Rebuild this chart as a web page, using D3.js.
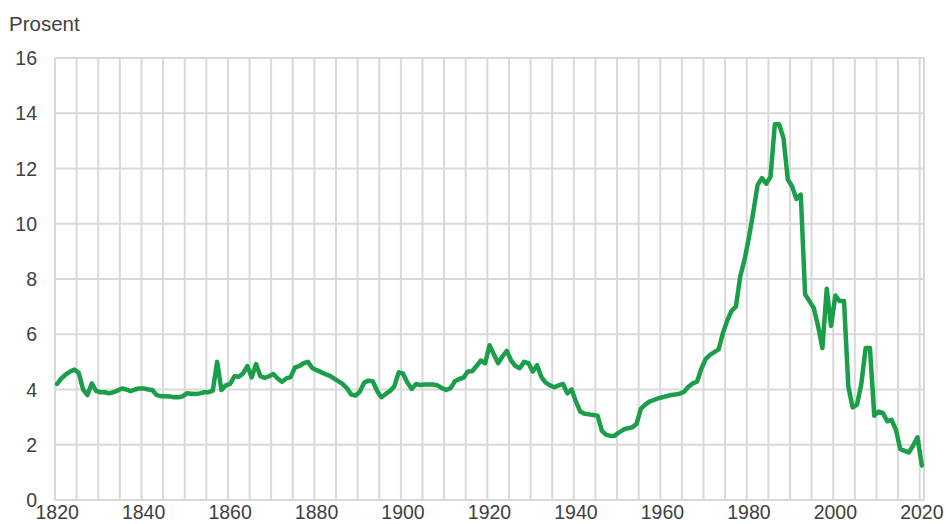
<!DOCTYPE html>
<html>
<head>
<meta charset="utf-8">
<script src="https://cdn.jsdelivr.net/npm/d3@7"></script>
<style>
  body { margin: 0; background: #fff; }
  text { font-family: "Liberation Sans", Arial, sans-serif; fill: #404040; }
</style>
</head>
<body>
<div id="chart"></div>
<script>
// one value per year, 1820-2020
const years = d3.range(1820, 2021)
const rates = [
  4.2, 4.4, 4.55, 4.65, 4.72, 4.6, 4.0, 3.8, 4.22, 3.95,      // 1820s
  3.9, 3.9, 3.86, 3.9, 3.96, 4.04, 4.0, 3.94, 4.0, 4.04,      // 1830s
  4.04, 4.0, 3.98, 3.8, 3.76, 3.76, 3.75, 3.72, 3.72, 3.75,   // 1840s
  3.86, 3.85, 3.84, 3.86, 3.9, 3.9, 3.96, 5.0, 3.98, 4.15,    // 1850s
  4.2, 4.48, 4.46, 4.58, 4.85, 4.44, 4.92, 4.48, 4.42, 4.48,  // 1860s
  4.56, 4.4, 4.28, 4.4, 4.45, 4.8, 4.85, 4.95, 5.0, 4.78,     // 1870s
  4.7, 4.63, 4.56, 4.5, 4.4, 4.3, 4.2, 4.05, 3.82, 3.78,      // 1880s
  3.92, 4.25, 4.32, 4.3, 3.95, 3.72, 3.84, 3.95, 4.12, 4.62,  // 1890s
  4.58, 4.25, 4.02, 4.2, 4.16, 4.18, 4.18, 4.18, 4.15, 4.05,  // 1900s
  3.98, 4.05, 4.3, 4.38, 4.43, 4.65, 4.66, 4.85, 5.05, 4.95,  // 1910s
  5.6, 5.28, 4.95, 5.2, 5.4, 5.05, 4.85, 4.77, 5.0, 4.95,     // 1920s
  4.65, 4.88, 4.45, 4.25, 4.15, 4.08, 4.15, 4.2, 3.86, 4.0,   // 1930s
  3.56, 3.2, 3.12, 3.1, 3.08, 3.05, 2.5, 2.36, 2.32, 2.33,    // 1940s
  2.45, 2.55, 2.6, 2.63, 2.75, 3.3, 3.45, 3.56, 3.62, 3.68,   // 1950s
  3.72, 3.76, 3.8, 3.82, 3.85, 3.92, 4.1, 4.22, 4.28, 4.75,   // 1960s
  5.1, 5.25, 5.35, 5.45, 6.05, 6.5, 6.85, 7.0, 8.1, 8.7,      // 1970s
  9.5, 10.4, 11.4, 11.65, 11.45, 11.7, 13.6, 13.6, 13.1, 11.6, // 1980s
  11.35, 10.9, 11.05, 7.45, 7.2, 6.95, 6.3, 5.5, 7.65, 6.3,   // 1990s
  7.4, 7.2, 7.2, 4.1, 3.35, 3.45, 4.2, 5.5, 5.5, 3.05,        // 2000s
  3.2, 3.15, 2.85, 2.9, 2.55, 1.85, 1.78, 1.72, 1.98, 2.27,   // 2010s
  1.25                                                        // 2020
]
const yTicks = [0, 2, 4, 6, 8, 10, 12, 14, 16]
const xLabels = [1820, 1840, 1860, 1880, 1900, 1920, 1940, 1960, 1980, 2000, 2020]
const yLabel = "Prosent"

;(function () {
  const margin = { top: 58, right: 22, bottom: 24, left: 55 }
  const width = 946 - margin.left - margin.right,
    height = 524 - margin.top - margin.bottom

  // category style axis: each year owns a slot, points sit in the middle of it
  const x = d3.scaleLinear()
    .domain([years[0] - 0.5, years[years.length - 1] + 0.5])
    .range([0, width])
  const y = d3.scaleLinear().domain([0, 16]).range([height, 0])

  const svg = d3.select("#chart")
    .append("svg")
    .attr("width", width + margin.left + margin.right)
    .attr("height", height + margin.top + margin.bottom)

  svg.append("text")
    .attr("x", 9)
    .attr("y", 31)
    .attr("font-size", "20.5px")
    .text(yLabel)

  const g = svg.append("g")
    .attr("transform", "translate(" + margin.left + "," + margin.top + ")")

  // vertical grid every 5 years, on the slot boundaries
  const vLines = d3.range(years[0] - 0.5, years[years.length - 1] + 0.5, 5)
  vLines.push(years[years.length - 1] + 0.5)

  g.selectAll(".vgrid")
    .data(vLines)
    .enter().append("line")
    .attr("class", "vgrid")
    .attr("x1", d => x(d))
    .attr("x2", d => x(d))
    .attr("y1", 0)
    .attr("y2", height)
    .attr("stroke", "#d9d9d9")
    .attr("stroke-width", 2)

  g.selectAll(".hgrid")
    .data(yTicks)
    .enter().append("line")
    .attr("class", "hgrid")
    .attr("x1", 0)
    .attr("x2", width)
    .attr("y1", d => y(d))
    .attr("y2", d => y(d))
    .attr("stroke", "#d9d9d9")
    .attr("stroke-width", 2)

  g.selectAll(".ylab")
    .data(yTicks)
    .enter().append("text")
    .attr("class", "ylab")
    .attr("x", -18)
    .attr("y", d => y(d))
    .attr("dy", "0.36em")
    .attr("text-anchor", "end")
    .attr("font-size", "19.5px")
    .text(d => d)

  // sits right at the bottom edge, like the original
  g.selectAll(".xlab")
    .data(xLabels)
    .enter().append("text")
    .attr("class", "xlab")
    .attr("x", d => x(d))
    .attr("y", height + 19)
    .attr("text-anchor", "middle")
    .attr("font-size", "19.5px")
    .text(d => d)

  const line = d3.line()
    .x((d, i) => x(years[i]))
    .y(d => y(d))

  g.append("path")
    .datum(rates)
    .attr("fill", "none")
    .attr("stroke", "#1a9e4a")
    .attr("stroke-width", 4.5)
    .attr("stroke-linejoin", "round")
    .attr("stroke-linecap", "round")
    .attr("d", line)
})()
</script>
</body>
</html>
